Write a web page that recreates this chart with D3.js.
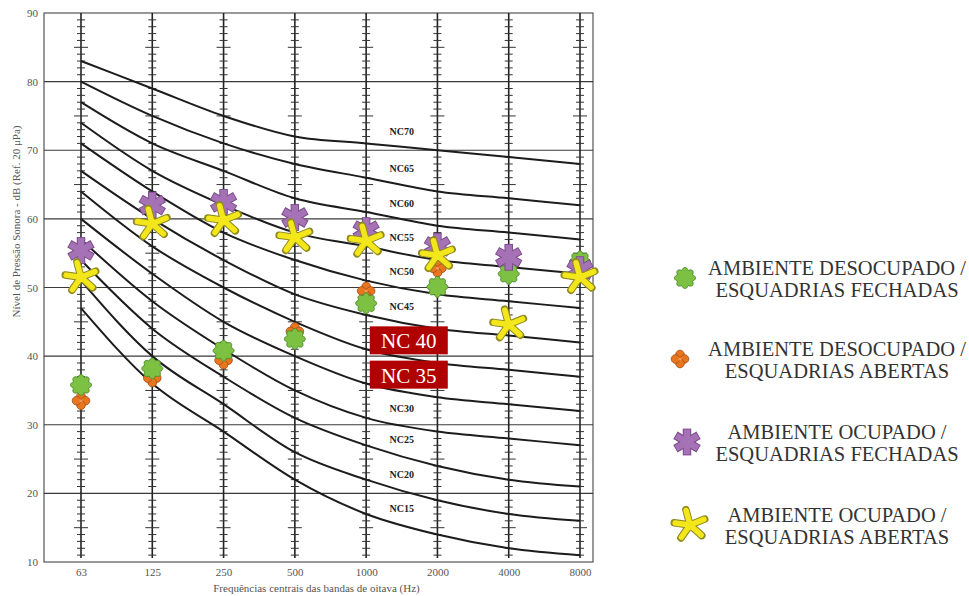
<!DOCTYPE html>
<html>
<head>
<meta charset="utf-8">
<script src="https://cdn.jsdelivr.net/npm/d3@7"></script>
<style>
  html, body { margin: 0; padding: 0; background: #fff; }
  svg { display: block; }
  text { font-family: "Liberation Serif", "Times New Roman", serif; }
</style>
</head>
<body>
<svg id="chart" width="969" height="596"></svg>
<script>
// Octave band centre frequencies (Hz)
const frequencies = ["63", "125", "250", "500", "1000", "2000", "4000", "8000"];
const yTicks = [10, 20, 30, 40, 50, 60, 70, 80, 90];

// Noise Criteria curves, dB per octave band
const ncLevels = [15, 20, 25, 30, 35, 40, 45, 50, 55, 60, 65, 70];
const nc15 = [47, 36, 29, 22, 17, 14, 12, 11];
const nc20 = [51, 40, 33, 26, 22, 19, 17, 16];
const nc25 = [54, 44, 37, 31, 27, 24, 22, 21];
const nc30 = [57, 48, 41, 35, 31, 29, 28, 27];
const nc35 = [60, 52, 45, 40, 36, 34, 33, 32];
const nc40 = [64, 56, 50, 45, 41, 39, 38, 37];
const nc45 = [67, 60, 54, 49, 46, 44, 43, 42];
const nc50 = [71, 64, 58, 54, 51, 49, 48, 47];
const nc55 = [74, 67, 62, 58, 56, 54, 53, 52];
const nc60 = [77, 71, 67, 63, 61, 59, 58, 57];
const nc65 = [80, 75, 71, 68, 66, 64, 63, 62];
const nc70 = [83, 79, 75, 72, 71, 70, 69, 68];
const ncCurves = [nc15, nc20, nc25, nc30, nc35, nc40, nc45, nc50, nc55, nc60, nc65, nc70];
const highlightedNC = [35, 40];

// Measured sound pressure levels (dB)
const desocupadoFechadas = [35.8, 38.2, 40.8, 42.5, 47.7, 50.1, 52.0, 53.8];
const desocupadoAbertas  = [33.5, 36.8, 39.4, 43.6, 49.5, 52.8, null, null];
const ocupadoFechadas    = [55.4, 62.0, 62.4, 60.2, 58.3, 56.0, 54.4, 52.6];
const ocupadoAbertas     = [51.5, 59.3, 59.8, 57.3, 56.8, 54.7, 44.6, 51.5];

const legendLabels = [
  ["AMBIENTE DESOCUPADO /", "ESQUADRIAS FECHADAS"],
  ["AMBIENTE DESOCUPADO /", "ESQUADRIAS ABERTAS"],
  ["AMBIENTE OCUPADO /", "ESQUADRIAS FECHADAS"],
  ["AMBIENTE OCUPADO /", "ESQUADRIAS ABERTAS"]
];

const svg = d3.select("#chart");
const frame = { left: 44, right: 593, top: 13, bottom: 562 };

const x = d3.scalePoint().domain(frequencies).range([81, 580]);
const y = d3.scaleLinear().domain([10, 90]).range([frame.bottom, frame.top]);

// Plot frame
svg.append("rect")
  .attr("x", frame.left).attr("y", frame.top)
  .attr("width", frame.right - frame.left).attr("height", frame.bottom - frame.top)
  .attr("fill", "none").attr("stroke", "#555").attr("stroke-width", 1.2);

// Horizontal grid lines every 10 dB
svg.append("g").selectAll("line")
  .data(yTicks.filter(v => v > 10 && v < 90))
  .join("line")
  .attr("x1", frame.left).attr("x2", frame.right)
  .attr("y1", d => y(d)).attr("y2", d => y(d))
  .attr("stroke", "#3a3a3a").attr("stroke-width", 1.2);

// Vertical frequency rules with 1 dB ticks
const rules = svg.append("g");
frequencies.forEach(f => {
  const gx = x(f);
  rules.append("line")
    .attr("x1", gx).attr("x2", gx)
    .attr("y1", y(90)).attr("y2", y(10.6))
    .attr("stroke", "#222").attr("stroke-width", 1.6);
  const ticks = d3.range(11, 90).filter(v => v % 10 !== 0);
  rules.selectAll(null).data(ticks).join("line")
    .attr("x1", d => gx - (d % 5 === 0 ? 7 : 4))
    .attr("x2", d => gx + (d % 5 === 0 ? 7 : 4))
    .attr("y1", d => y(d)).attr("y2", d => y(d))
    .attr("stroke", "#333").attr("stroke-width", 1);
});

// Axes (labels only)
const yAxis = svg.append("g")
  .attr("transform", `translate(${frame.left},0)`)
  .call(d3.axisLeft(y).tickValues(yTicks).tickSize(0).tickPadding(6));
yAxis.select(".domain").remove();
yAxis.selectAll("text")
  .attr("font-family", "Liberation Serif, serif")
  .attr("font-size", 11).attr("fill", "#555");

const xAxis = svg.append("g")
  .attr("transform", `translate(0,${frame.bottom})`)
  .call(d3.axisBottom(x).tickSize(0).tickPadding(6));
xAxis.select(".domain").remove();
xAxis.selectAll("text")
  .attr("font-family", "Liberation Serif, serif")
  .attr("font-size", 11).attr("fill", "#555");

// Axis titles
svg.append("text")
  .attr("x", (frame.left + frame.right) / 2 - 2).attr("y", 592)
  .attr("text-anchor", "middle")
  .attr("font-size", 11).attr("fill", "#555")
  .text("Frequências centrais das bandas de oitava (Hz)");

svg.append("text")
  .attr("transform", `translate(20,${(frame.top + frame.bottom) / 2 - 66}) rotate(-90)`)
  .attr("text-anchor", "middle")
  .attr("font-size", 11).attr("fill", "#555")
  .text("Nível de Pressão Sonora - dB (Ref. 20  μPa)");

// NC curves
const ncLine = d3.line()
  .x((d, i) => x(frequencies[i]))
  .y(d => y(d))
  .curve(d3.curveMonotoneX);

svg.append("g").selectAll("path")
  .data(ncCurves)
  .join("path")
  .attr("d", ncLine)
  .attr("fill", "none")
  .attr("stroke", "#1c1c1c").attr("stroke-width", 2);

// NC labels, placed just above each curve between 1 kHz and 2 kHz
const labelX = (x("1000") + x("2000")) / 2;
const labelDb = c => (c[4] + c[5]) / 2 + 2.3;
const ncLabels = svg.append("g");
ncLevels.forEach((lvl, i) => {
  const cy = y(labelDb(ncCurves[i]));
  if (highlightedNC.includes(lvl)) return;
  ncLabels.append("text")
    .attr("x", labelX).attr("y", cy)
    .attr("text-anchor", "middle").attr("dominant-baseline", "central")
    .attr("font-size", 10).attr("font-weight", "bold").attr("fill", "#222")
    .text("NC" + lvl);
});

// ---- Marker shapes ----
function flower(g, r) {
  const pts = d3.range(0, 121).map(k => {
    const t = (k / 120) * Math.PI * 2;
    const rr = r * (0.76 + 0.24 * Math.abs(Math.cos(4 * t)));
    return [rr * Math.cos(t), rr * Math.sin(t)];
  });
  g.append("path")
    .attr("d", d3.line()(pts) + "Z")
    .attr("fill", "#7cc142").attr("stroke", "#4d8a2a").attr("stroke-width", 1);
}

function clover(g, r) {
  const d = r * 0.52;
  [[0, -d], [d, 0], [0, d], [-d, 0]].forEach(([dx, dy]) => {
    g.append("circle").attr("cx", dx).attr("cy", dy).attr("r", r * 0.5)
      .attr("fill", "#e8761e").attr("stroke", "#a9521c").attr("stroke-width", 0.9);
  });
  g.append("circle").attr("r", r * 0.18).attr("fill", "#f09a55");
}

function armsShape(g, angles, len, width, fill, stroke, cap) {
  const segs = angles.map(a => {
    const t = a * Math.PI / 180;
    return [Math.cos(t) * len, Math.sin(t) * len];
  });
  // outline layer then fill layer give a single outlined silhouette
  [[width + 2, stroke, 0.9], [width, fill, 0]].forEach(([w, col, ext]) => {
    segs.forEach(([dx, dy]) => {
      const l = Math.hypot(dx, dy);
      g.append("line")
        .attr("x1", 0).attr("y1", 0)
        .attr("x2", dx * (l + ext) / l).attr("y2", dy * (l + ext) / l)
        .attr("stroke", col).attr("stroke-width", w)
        .attr("stroke-linecap", cap);
    });
  });
}

function asterisk(g) {
  armsShape(g, [-90, -30, 30, 90, 150, 210], 12.5, 6.5, "#a672b6", "#7d4c8c", "butt");
  g.append("circle").attr("r", 3).attr("fill", "#a672b6");
}

function starfish(g) {
  armsShape(g, [-105, -22, 42, 125, 188], 15, 5.5, "#f3e61a", "#8f8a22", "round");
  g.append("circle").attr("r", 4.8).attr("fill", "#f3e61a");
}

const markerDraw = [
  g => flower(g, 10.5),
  g => clover(g, 8.6),
  g => asterisk(g),
  g => starfish(g)
];

// Data points: open-window series drawn first, occupied series on top
const seriesOrder = [
  { values: desocupadoAbertas, draw: markerDraw[1] },
  { values: desocupadoFechadas, draw: markerDraw[0] },
  { values: ocupadoFechadas, draw: markerDraw[2] },
  { values: ocupadoAbertas, draw: markerDraw[3] }
];
const pointsLayer = svg.append("g");
seriesOrder.forEach(s => {
  s.values.forEach((v, i) => {
    if (v == null) return;
    const g = pointsLayer.append("g")
      .attr("transform", `translate(${x(frequencies[i])},${y(v)})`);
    s.draw(g);
  });
});

// Highlighted NC 40 / NC 35 labels
highlightedNC.forEach(lvl => {
  const i = ncLevels.indexOf(lvl);
  const cy = y(labelDb(ncCurves[i]));
  const bx = labelX + 7;
  svg.append("rect")
    .attr("x", bx - 39).attr("y", cy - 14)
    .attr("width", 78).attr("height", 28)
    .attr("fill", "#b00000");
  svg.append("text")
    .attr("x", bx).attr("y", cy + 1)
    .attr("text-anchor", "middle").attr("dominant-baseline", "central")
    .attr("font-size", 21).attr("fill", "#fff")
    .text("NC " + lvl);
});

// Legend
const legendRows = [278, 359, 442, 525];
const legendMarkerX = [685, 680, 687, 690];
const legend = svg.append("g");
legendLabels.forEach((lines, i) => {
  const g = legend.append("g")
    .attr("transform", `translate(${legendMarkerX[i]},${legendRows[i]})`);
  markerDraw[i](g);
  lines.forEach((t, j) => {
    legend.append("text")
      .attr("x", 837).attr("y", legendRows[i] - 3 + j * 22)
      .attr("text-anchor", "middle")
      .attr("font-size", 20.5).attr("fill", "#333")
      .text(t);
  });
});
</script>
</body>
</html>
